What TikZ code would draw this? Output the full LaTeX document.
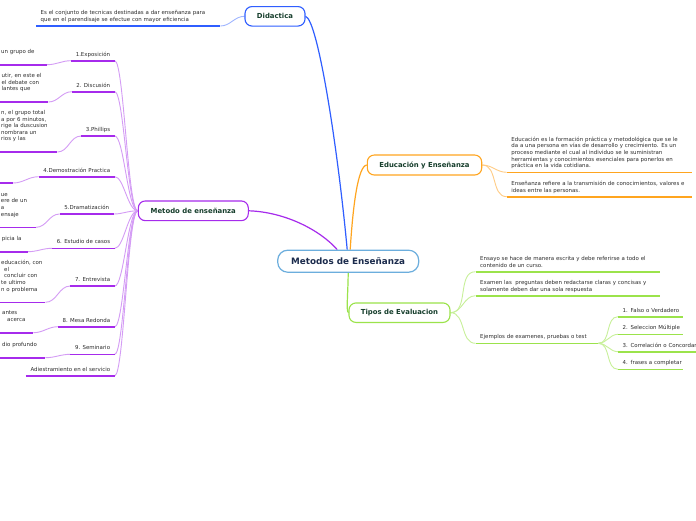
\documentclass[tikz,border=0pt]{standalone}
\usepackage{fontspec}
\setmainfont{DejaVu Sans}
\usetikzlibrary{calc}
\pgfdeclarelayer{bg}
\pgfsetlayers{bg,main}
\definecolor{didblue}{HTML}{2F5EFF}
\definecolor{lblue}{HTML}{A0B6FF}
\definecolor{orng}{HTML}{FFA51F}
\definecolor{lorng}{HTML}{FFCC85}
\definecolor{grn}{HTML}{9BE34B}
\definecolor{lgrn}{HTML}{C8F09A}
\definecolor{prp}{HTML}{A62BEC}
\definecolor{lprp}{HTML}{D49CF5}
\definecolor{cbord}{HTML}{6CAEDD}
\definecolor{ntext}{HTML}{163E2C}
\definecolor{ctext}{HTML}{1B2B4C}
\definecolor{txt}{HTML}{2C2C2C}
\newcommand\dz{\rule[-1.6pt]{0pt}{1.6pt}}
\begin{document}
\begin{tikzpicture}[x=1pt,y=-1pt,
  sm/.style={font=\fontsize{5.45}{6.6}\selectfont, text=txt, inner xsep=4.5pt, inner ysep=2.8pt},
  lab/.style={sm, anchor=south east},
  rb/.style={sm, anchor=south west, align=left},
  lb/.style={sm, anchor=south west, align=left, inner ysep=9.4pt},
  branch/.style={draw, fill=white, line width=1.1pt, rounded corners=7pt, inner sep=0pt, text=ntext, font=\bfseries\fontsize{6.9}{8}\selectfont},
  main/.style={line width=1.2pt},
  sub/.style={line width=0.9pt},
  ul/.style={line width=1.6pt},
]
\useasboundingbox (0,0) rectangle (696,520);

% central and branch nodes
\node[draw=cbord, fill=white, line width=1.2pt, rounded corners=10pt, minimum width=141pt, minimum height=22pt, inner sep=0pt, text=ctext, font=\bfseries\fontsize{8.8}{10}\selectfont] (C) at (348.2,261.2) {Metodos de Enseñanza};
\node[branch, draw=didblue, minimum width=60pt, minimum height=19.5pt] (D) at (275,16.3) {Didactica};
\node[branch, draw=orng, minimum width=114.4pt, minimum height=20pt] (E) at (424.5,165) {Educación y Enseñanza};
\node[branch, draw=grn, minimum width=101pt, minimum height=19.5pt] (T) at (399.5,312.7) {Tipos de Evaluacion};
\node[branch, draw=prp, minimum width=110pt, minimum height=19.7pt] (M) at (193.3,210.8) {Metodo de enseñanza};

% Didactica text
\node[rb, text width=175pt] (dt) at (36,26) {\mbox{Es el conjunto de tecnicas destinadas a dar enseñanza para}\\\mbox{que en el parendisaje se efectue con mayor eficiencia}\dz};

% Educacion texts
\node[rb, text width=176pt] (e1) at (506.7,172.3) {\mbox{Educación es la formación práctica y metodológica que se le}\\\mbox{da a una persona en vías de desarrollo y crecimiento. Es un}\\\mbox{proceso mediante el cual al individuo se le suministran}\\\mbox{herramientas y conocimientos esenciales para ponerlos en}\\\mbox{práctica en la vida cotidiana.}\dz};
\node[rb, text width=176pt] (e2) at (506.7,196.7) {\mbox{Enseñanza refiere a la transmisión de conocimientos, valores e}\\\mbox{ideas entre las personas.}\dz};

% Tipos texts
\node[rb, text width=175.5pt] (v1) at (475.5,271.7) {\mbox{Ensayo se hace de manera escrita y debe referirse a todo el}\\\mbox{contenido de un curso.}\dz};
\node[rb, text width=175.5pt] (v2) at (475.5,295.7) {\mbox{Examen las\ \ preguntas deben redactarse claras y concisas y}\\\mbox{solamente deben dar una sola respuesta}\dz};
\node[rb, text width=113.5pt] (v3) at (475.5,343.3) {\mbox{Ejemplos de examenes, pruebas o test}\dz};
\node[rb, text width=56pt] (g1) at (618,316.7) {\mbox{1. Falso o Verdadero}\dz};
\node[rb, text width=56pt] (g2) at (618,334.3) {\mbox{2. Seleccion Múltiple}\dz};
\node[rb, text width=100pt] (g3) at (618,351.7) {\mbox{3. Correlación o Concordancia}\dz};
\node[rb, text width=56pt] (g4) at (618,369.3) {\mbox{4. frases a completar}\dz};

% Metodo labels
\node[lab] (p1) at (114.8,60.7) {1.Exposición\dz};
\node[lab] (p2) at (114.8,91.7) {2. Discusión\dz};
\node[lab] (p3) at (114.8,136) {3.Phillips\dz};
\node[lab] (p4) at (114.8,176.7) {4.Demostración Practica\dz};
\node[lab] (p5) at (113.8,214) {5.Dramatización\dz};
\node[lab] (p6) at (114.8,248.3) {6. Estudio de casos\dz};
\node[lab] (p7) at (114.8,286) {7. Entrevista\dz};
\node[lab] (p8) at (114.8,326.7) {8. Mesa Redonda\dz};
\node[lab] (p9) at (114.8,354.3) {9. Seminario\dz};
\node[lab] (p10) at (114.8,375.7) {Adiestramiento en el servicio\dz};

% left (cut) texts
\node[lb, text width=41.2pt] (q1) at (-3.5,64.7) {\mbox{un grupo de}\dz};
\node[lb, text width=42pt] (q2) at (-3,102) {\mbox{utir, en este el}\\\mbox{el debate con}\\\mbox{lantes que}\dz};
\node[lb, text width=51.5pt] (q3) at (-3.5,152) {\mbox{n, el grupo total}\\\mbox{a por 6 minutos,}\\\mbox{rige la duscusion}\\\mbox{nombrara un}\\\mbox{rios y las}\dz};
\node[lb, anchor=south east, minimum width=60pt] (q4) at (13,183) {\dz};
\node[lb, text width=30.5pt] (q5) at (-3.8,227.3) {\mbox{ue}\\\mbox{ere de un}\\\mbox{a}\\\mbox{ensaje}\dz};
\node[lb, text width=21.2pt] (q6) at (-2.8,251.7) {\mbox{picia la}\dz};
\node[lb, text width=39.5pt] (q7) at (-3.5,302.3) {\mbox{educación, con}\\\mbox{\hspace*{3pt}el}\\\mbox{\hspace*{3pt}concluir con}\\\mbox{te ultimo}\\\mbox{n o problema}\dz};
\node[lb, text width=26.5pt] (q8) at (-2.5,332.7) {\mbox{antes}\\\mbox{\hspace*{5pt}acerca}\dz};
\node[lb, text width=38.5pt] (q9) at (-2.5,357.7) {\mbox{dio profundo}\dz};

% underlines
\draw[ul, didblue] (dt.south west) -- (dt.south east);
\foreach \i in {1,2} \draw[ul, orng] (e\i.south west) -- (e\i.south east);
\foreach \i in {1,2,3} \draw[ul, grn] (v\i.south west) -- (v\i.south east);
\foreach \i in {1,...,4} \draw[ul, grn] (g\i.south west) -- (g\i.south east);
\foreach \i in {1,...,10} \draw[ul, prp] (p\i.south west) -- (p\i.south east);
\foreach \i in {1,...,9} \draw[ul, prp] (q\i.south west) -- (q\i.south east);

% connectors
\begin{pgfonlayer}{bg}
\fill[white] (0,0) rectangle (696,520);
\draw[main, didblue] ($(C.north)+(-1,0)$) .. controls (338,150) and (318,20) .. (D.east);
\draw[main, orng] ($(C.north)+(2,0)$) .. controls (353,205) and (358,166) .. (E.west);
\draw[main, prp] ($(C.north)+(-11,0)$) .. controls (320,230) and (285,212) .. (M.east);
\draw[main, grn] (C.south) .. controls (348,295) and (346,311) .. (T.west);
\draw[sub, lblue] (D.west) to[out=180,in=0] (dt.south east);
\foreach \i in {1,2} \draw[sub, lorng] (E.east) to[out=0,in=180] (e\i.south west);
\foreach \i in {1,2,3} \draw[sub, lgrn] (T.east) to[out=0,in=180] (v\i.south west);
\foreach \i in {1,...,4} \draw[sub, lgrn] (v3.south east) to[out=0,in=180] (g\i.south west);
\foreach \i in {1,...,10} \draw[sub, lprp] (M.west) to[out=180,in=0,out distance=10pt,in distance=9pt] (p\i.south east);
\foreach \i in {1,...,9} \draw[sub, lprp] (p\i.south west) to[out=180,in=0] (q\i.south east);
\end{pgfonlayer}
\end{tikzpicture}
\end{document}
